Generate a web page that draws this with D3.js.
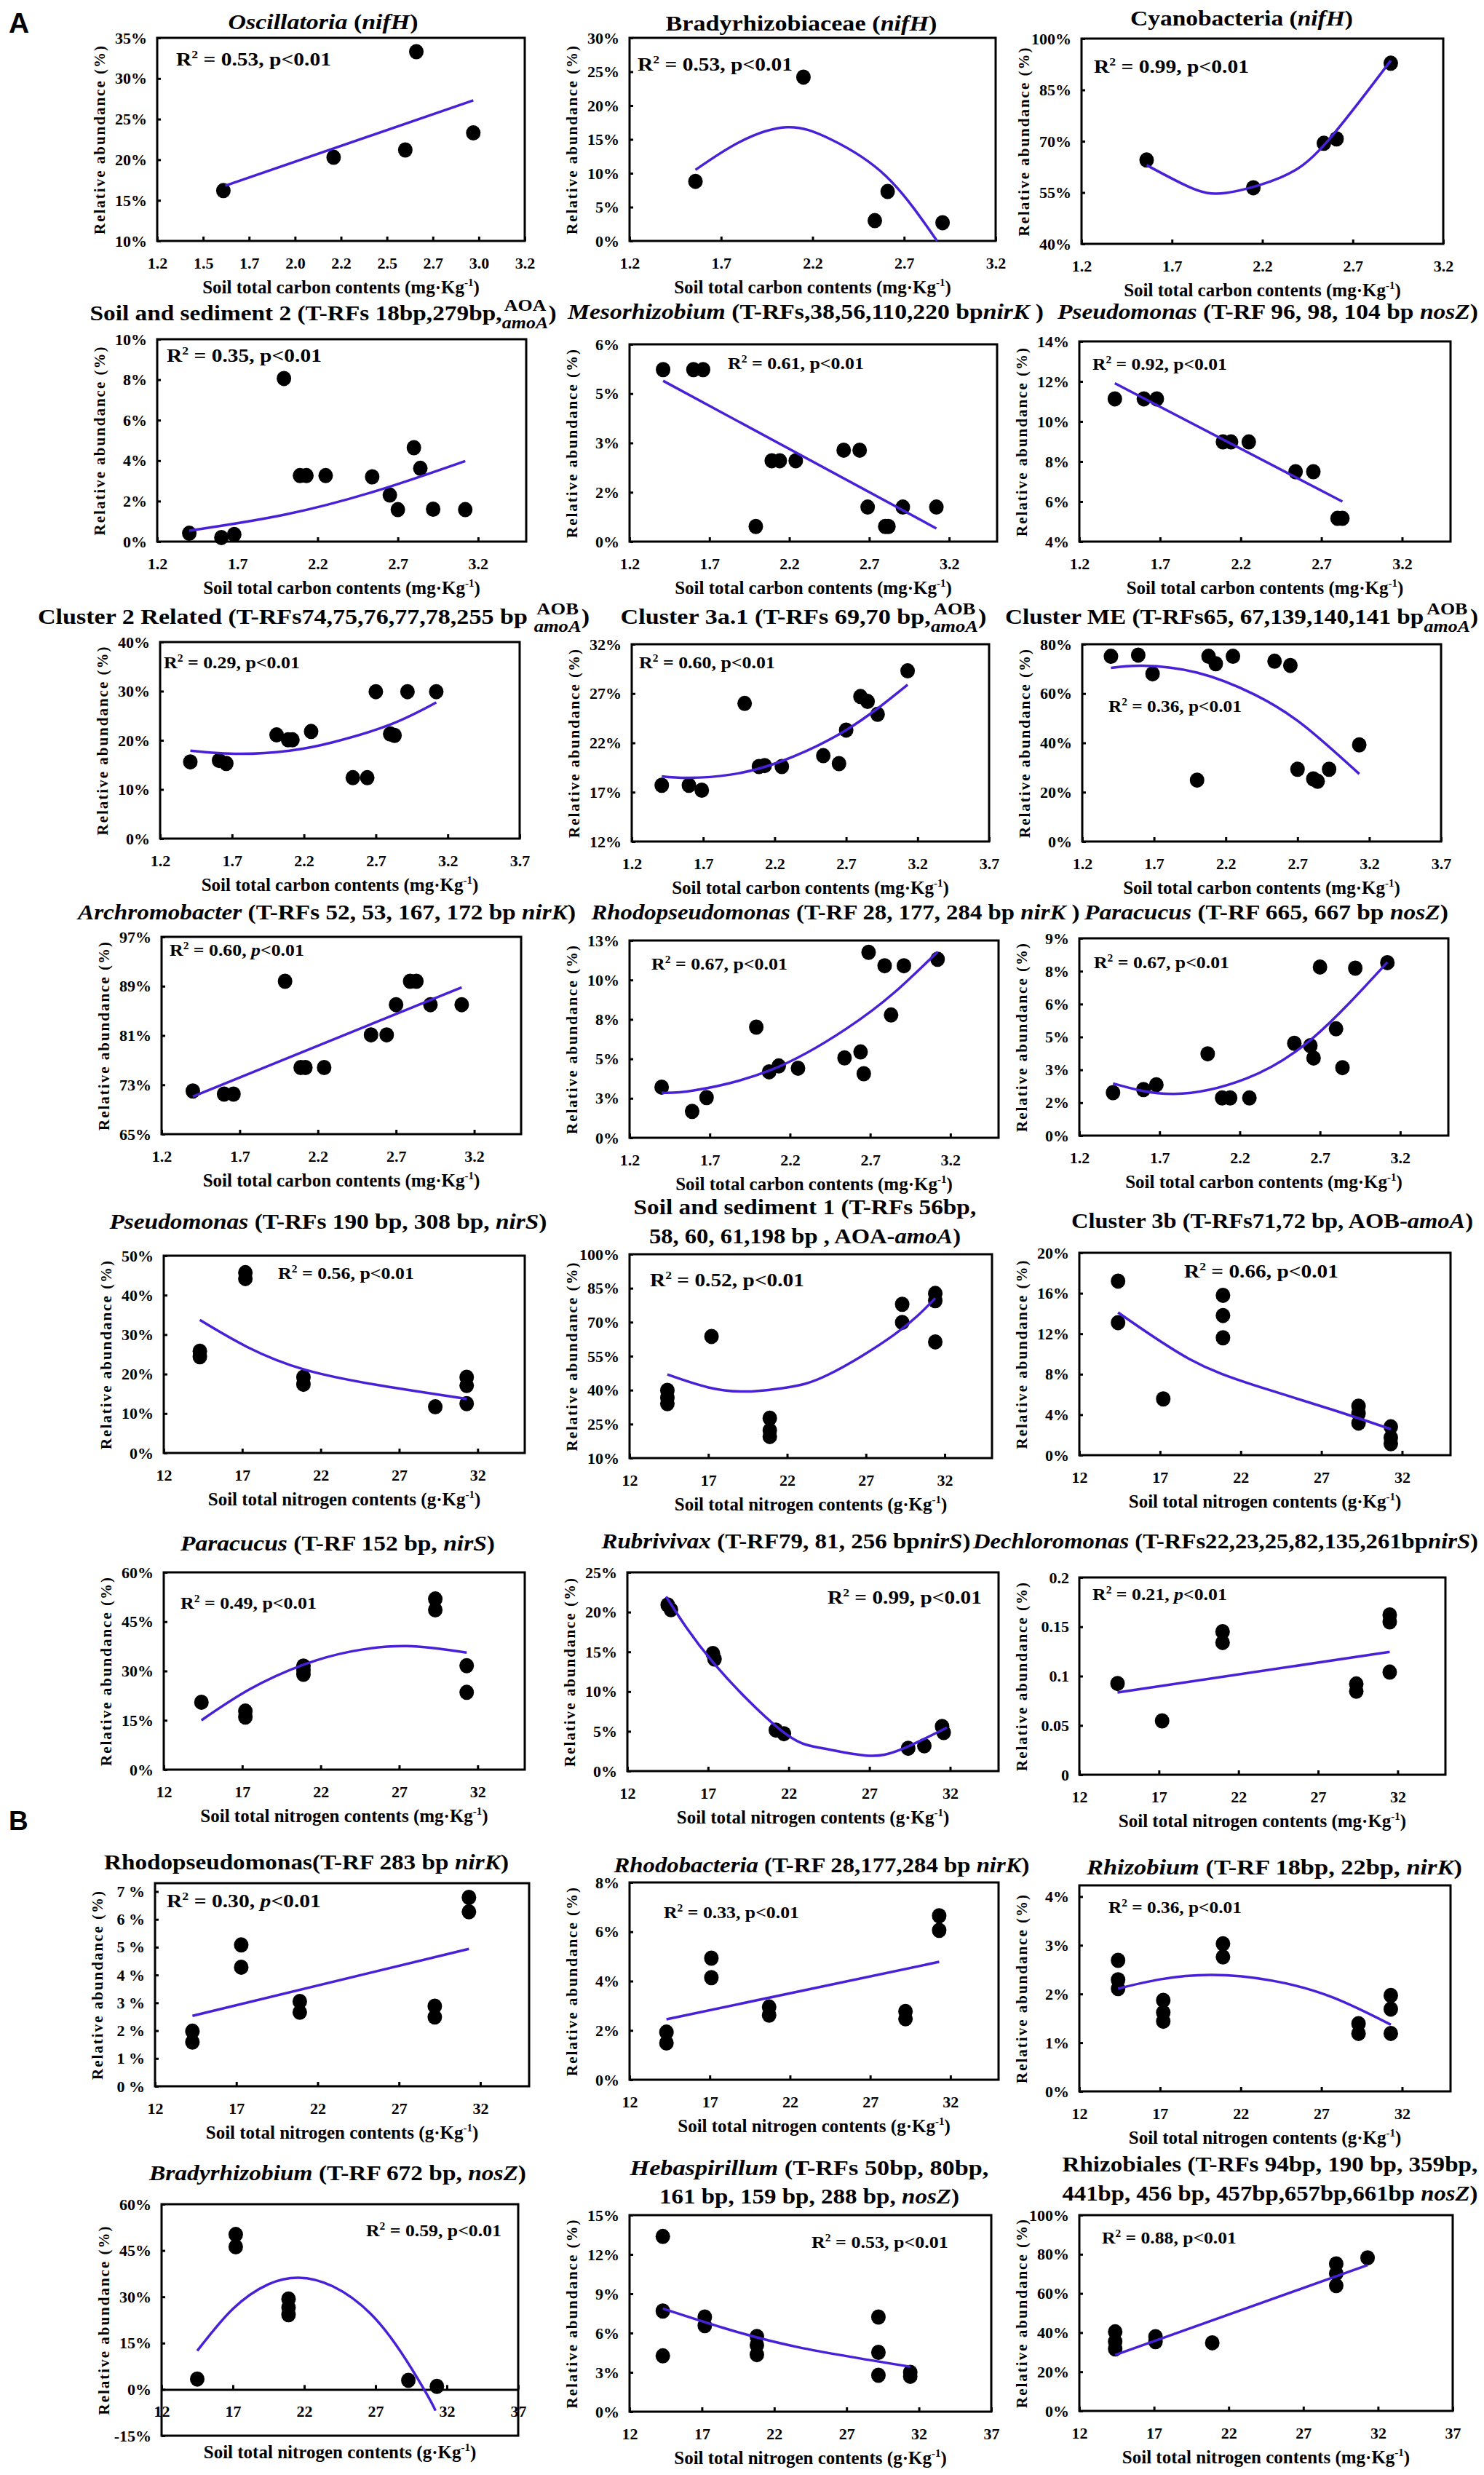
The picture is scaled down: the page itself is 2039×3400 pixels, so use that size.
<!DOCTYPE html>
<html>
<head>
<meta charset="utf-8">
<script src="https://cdn.jsdelivr.net/npm/d3@7"></script>
<style>
  body { margin: 0; background: #fff; }
  svg { display: block; font-family: "Liberation Serif", "Times New Roman", serif; font-weight: bold; }
</style>
</head>
<body>
<svg id="fig" width="2039" height="3400"></svg>
<script>
// ─── Data ───────────────────────────────────────────────────────────────
const titles = [
  "*Oscillatoria* (*nifH*)",
  "Bradyrhizobiaceae (*nifH*)",
  "Cyanobacteria (*nifH*)",
  "Soil and sediment 2 (T-RFs 18bp,279bp,{AOA|amoA})",
  "*Mesorhizobium* (T-RFs,38,56,110,220 bp*nirK* )",
  "*Pseudomonas* (T-RF 96, 98, 104 bp *nosZ*)",
  "Cluster 2 Related (T-RFs74,75,76,77,78,255 bp {AOB|amoA})",
  "Cluster 3a.1 (T-RFs 69,70 bp,{AOB|amoA})",
  "Cluster ME (T-RFs65, 67,139,140,141 bp{AOB|amoA})",
  "*Archromobacter* (T-RFs 52, 53, 167, 172 bp *nirK*)",
  "*Rhodopseudomonas* (T-RF 28, 177, 284 bp *nirK* )",
  "*Paracucus* (T-RF 665, 667 bp *nosZ*)",
  "*Pseudomonas* (T-RFs 190 bp, 308 bp, *nirS*)",
  "Soil and sediment 1 (T-RFs 56bp,\n58, 60, 61,198 bp , AOA-*amoA*)",
  "Cluster 3b (T-RFs71,72 bp, AOB-*amoA*)",
  "*Paracucus* (T-RF 152 bp, *nirS*)",
  "*Rubrivivax* (T-RF79, 81, 256 bp*nirS*)",
  "*Dechloromonas* (T-RFs22,23,25,82,135,261bp*nirS*)",
  "Rhodopseudomonas(T-RF 283 bp *nirK*)",
  "*Rhodobacteria* (T-RF 28,177,284 bp *nirK*)",
  "*Rhizobium* (T-RF 18bp, 22bp, *nirK*)",
  "*Bradyrhizobium* (T-RF 672 bp, *nosZ*)",
  "*Hebaspirillum* (T-RFs 50bp, 80bp,\n161 bp, 159 bp, 288 bp, *nosZ*)",
  "Rhizobiales (T-RFs 94bp, 190 bp, 359bp,\n441bp, 456 bp, 457bp,657bp,661bp *nosZ*)"
];

const r2Values = ["0.53","0.53","0.99","0.35","0.61","0.92","0.29","0.60","0.36","0.60","0.67","0.67",
                  "0.56","0.52","0.66","0.49","0.99","0.21","0.30","0.33","0.36","0.59","0.53","0.88"];

const xVariable = ["carbon","carbon","carbon","carbon","carbon","carbon","carbon","carbon","carbon","carbon","carbon","carbon",
                   "nitrogen","nitrogen","nitrogen","nitrogen","nitrogen","nitrogen","nitrogen","nitrogen","nitrogen","nitrogen","nitrogen","nitrogen"];
const xUnit = ["mg","mg","mg","mg","mg","mg","mg","mg","mg","mg","mg","mg",
               "g","g","g","mg","g","mg","g","g","g","g","g","mg"];

const xDomains = [
  [1.2,3.2],[1.2,3.2],[1.2,3.2],
  [1.2,3.5],[1.2,3.5],[1.2,3.5],
  [1.2,3.7],[1.2,3.7],[1.2,3.7],
  [1.2,3.5],[1.2,3.5],[1.2,3.5],
  [12,35],[12,35],[12,35],
  [12,35],[12,35],[12,35],
  [12,35],[12,35],[12,35],
  [12,37],[12,37],[12,37]
];

const carbonTicksFine = [1.2,1.45,1.7,1.95,2.2,2.45,2.7,2.95,3.2];
const carbonLabelsFine = ["1.2","1.5","1.7","2.0","2.2","2.5","2.7","3.0","3.2"];
const carbonTicks = [1.2,1.7,2.2,2.7,3.2];
const carbonLabels = ["1.2","1.7","2.2","2.7","3.2"];
const carbonTicksWide = [1.2,1.7,2.2,2.7,3.2,3.7];
const carbonLabelsWide = ["1.2","1.7","2.2","2.7","3.2","3.7"];
const nitroTicks = [12,17,22,27,32];
const nitroLabels = ["12","17","22","27","32"];
const nitroTicksWide = [12,17,22,27,32,37];
const nitroLabelsWide = ["12","17","22","27","32","37"];

const xTickValues = [carbonTicksFine, carbonTicks, carbonTicks, carbonTicks, carbonTicks, carbonTicks,
  carbonTicksWide, carbonTicksWide, carbonTicksWide, carbonTicks, carbonTicks, carbonTicks,
  nitroTicks, nitroTicks, nitroTicks, nitroTicks, nitroTicks, nitroTicks, nitroTicks, nitroTicks, nitroTicks,
  nitroTicksWide, nitroTicksWide, nitroTicksWide];
const xTickLabels = [carbonLabelsFine, carbonLabels, carbonLabels, carbonLabels, carbonLabels, carbonLabels,
  carbonLabelsWide, carbonLabelsWide, carbonLabelsWide, carbonLabels, carbonLabels, carbonLabels,
  nitroLabels, nitroLabels, nitroLabels, nitroLabels, nitroLabels, nitroLabels, nitroLabels, nitroLabels, nitroLabels,
  nitroLabelsWide, nitroLabelsWide, nitroLabelsWide];

const yDomains = [[10,35],[0,30],[40,100],[0,10],[0,6],[4,14],[0,40],[12,32],[0,80],[65,97],[0,12.5],[0,9],
                  [0,50],[10,100],[0,20],[0,60],[0,25],[0,0.2],[0,7.3],[0,8],[0,4.23],[-15,60],[0,15],[0,100]];

const yTickValues = [
  [10,15,20,25,30,35], [0,5,10,15,20,25,30], [40,55,70,85,100],
  [0,2,4,6,8,10], [0,1.5,3,4.5,6], [4,6,8,10,12,14],
  [0,10,20,30,40], [12,17,22,27,32], [0,20,40,60,80],
  [65,73,81,89,97], [0,2.5,5,7.5,10,12.5], [0,1.5,3,4.5,6,7.5,9],
  [0,10,20,30,40,50], [10,25,40,55,70,85,100], [0,4,8,12,16,20],
  [0,15,30,45,60], [0,5,10,15,20,25], [0,0.05,0.1,0.15,0.2],
  [0,1,2,3,4,5,6,7], [0,2,4,6,8], [0,1,2,3,4],
  [-15,0,15,30,45,60], [0,3,6,9,12,15], [0,20,40,60,80,100]
];
const yTickLabels = [
  ["10%","15%","20%","25%","30%","35%"], ["0%","5%","10%","15%","20%","25%","30%"], ["40%","55%","70%","85%","100%"],
  ["0%","2%","4%","6%","8%","10%"], ["0%","2%","3%","5%","6%"], ["4%","6%","8%","10%","12%","14%"],
  ["0%","10%","20%","30%","40%"], ["12%","17%","22%","27%","32%"], ["0%","20%","40%","60%","80%"],
  ["65%","73%","81%","89%","97%"], ["0%","3%","5%","8%","10%","13%"], ["0%","2%","3%","5%","6%","8%","9%"],
  ["0%","10%","20%","30%","40%","50%"], ["10%","25%","40%","55%","70%","85%","100%"], ["0%","4%","8%","12%","16%","20%"],
  ["0%","15%","30%","45%","60%"], ["0%","5%","10%","15%","20%","25%"], ["0","0.05","0.1","0.15","0.2"],
  ["0 %","1 %","2 %","3 %","4 %","5 %","6 %","7 %"], ["0%","2%","4%","6%","8%"], ["0%","1%","2%","3%","4%"],
  ["-15%","0%","15%","30%","45%","60%"], ["0%","3%","6%","9%","12%","15%"], ["0%","20%","40%","60%","80%","100%"]
];

const pointX = [
  [1.56,2.16,2.55,2.61,2.92],
  [1.56,2.15,2.54,2.61,2.91],
  [1.56,2.15,2.54,2.61,2.91],
  [1.40,1.60,1.68,1.99,2.09,2.13,2.25,2.54,2.65,2.70,2.80,2.84,2.92,3.12],
  [1.41,1.60,1.66,1.99,2.09,2.14,2.24,2.54,2.64,2.69,2.80,2.82,2.91,3.12],
  [1.42,1.60,1.68,2.09,2.14,2.25,2.54,2.65,2.80,2.83],
  [1.41,1.61,1.66,2.01,2.09,2.12,2.25,2.54,2.64,2.70,2.80,2.83,2.92,3.12],
  [1.41,1.60,1.69,1.99,2.09,2.13,2.25,2.54,2.65,2.70,2.80,2.85,2.92,3.13],
  [1.40,1.59,1.69,2.00,2.08,2.13,2.25,2.54,2.65,2.70,2.81,2.84,2.92,3.13],
  [1.40,1.60,1.66,1.99,2.09,2.12,2.24,2.54,2.64,2.70,2.79,2.83,2.92,3.12],
  [1.40,1.59,1.68,1.99,2.07,2.13,2.25,2.54,2.64,2.66,2.69,2.79,2.83,2.91,3.12],
  [1.41,1.60,1.68,2.00,2.09,2.14,2.26,2.54,2.64,2.66,2.70,2.80,2.84,2.92,3.12],
  [14.3,14.3,17.2,17.2,20.9,20.9,29.3,31.3,31.3,31.3],
  [14.4,14.4,14.4,17.2,20.9,20.9,20.9,29.3,29.3,31.4,31.4,31.4],
  [14.4,14.4,17.2,20.9,20.9,20.9,29.3,29.3,29.3,31.3,31.3,31.3],
  [14.4,17.2,17.2,20.9,20.9,20.9,29.3,29.3,31.3,31.3],
  [14.5,14.7,17.3,17.4,21.2,21.7,29.4,30.4,31.5,31.6],
  [14.4,17.2,21.0,21.0,29.4,29.4,31.5,31.5,31.5],
  [14.3,14.3,17.3,17.3,20.9,20.9,29.2,29.2,31.3,31.3],
  [14.3,14.3,17.1,17.1,20.7,20.7,29.2,29.2,31.3,31.3],
  [14.4,14.4,14.4,17.2,17.2,17.2,20.9,20.9,29.3,29.3,31.3,31.3,31.3],
  [14.5,17.2,17.2,20.9,20.9,20.9,29.3,31.3],
  [14.3,14.3,14.3,17.2,17.2,20.8,20.8,20.8,29.2,29.2,29.2,31.4,31.4],
  [14.4,14.4,14.4,17.1,17.1,20.9,29.2,29.2,29.2,31.3]
];
const pointY = [
  [16.2,20.3,21.2,33.3,23.3],
  [8.8,24.2,3.0,7.3,2.7],
  [64.5,56.4,69.4,70.7,92.8],
  [0.41,0.2,0.35,8.06,3.26,3.26,3.26,3.2,2.3,1.58,4.64,3.62,1.6,1.58],
  [5.23,5.23,5.23,0.46,2.46,2.46,2.46,2.78,2.78,1.05,0.46,0.46,1.05,1.05],
  [11.13,11.13,11.13,8.98,8.98,8.98,7.49,7.49,5.16,5.16],
  [15.6,15.9,15.3,21.1,20.1,20.1,21.8,12.4,12.4,29.9,21.3,21.0,29.9,29.9],
  [17.7,17.7,17.2,26.0,19.6,19.7,19.6,20.7,19.9,23.3,26.7,26.2,24.9,29.3],
  [75.1,75.6,68.0,24.9,75.1,72.1,75.1,73.1,71.4,29.3,25.4,24.4,29.3,39.2],
  [72.0,71.5,71.5,89.8,75.8,75.8,75.8,81.1,81.1,86.0,89.8,89.8,86.0,86.0],
  [3.21,1.67,2.55,7.01,4.18,4.55,4.41,5.06,5.44,4.06,11.75,10.9,7.78,10.9,11.31],
  [1.96,2.10,2.32,3.73,1.72,1.72,1.72,4.21,4.1,3.54,7.69,4.87,3.10,7.64,7.89],
  [25.8,24.4,45.7,44.2,19.2,17.4,11.7,19.2,17.1,12.5],
  [39.9,36.7,34.0,63.7,27.6,22.2,19.5,77.9,69.9,82.7,79.5,61.3],
  [17.2,13.1,5.56,15.8,13.8,11.6,4.84,4.12,3.17,2.8,1.73,1.13],
  [20.5,17.8,16.0,31.5,30.3,29.0,51.9,48.6,31.6,23.5],
  [20.9,20.3,14.8,14.1,5.16,4.7,2.87,3.18,5.62,4.85],
  [0.0925,0.0546,0.145,0.134,0.092,0.0846,0.162,0.155,0.104],
  [1.98,1.59,5.08,4.28,3.05,2.66,2.88,2.49,6.79,6.27],
  [1.93,1.49,4.93,4.14,2.95,2.62,2.77,2.47,6.65,6.06],
  [2.69,2.29,2.11,1.87,1.62,1.44,3.03,2.76,1.39,1.19,1.97,1.69,1.19],
  [3.35,50.2,46.2,29.3,26.5,24.2,2.94,0.98],
  [13.37,7.68,4.26,7.22,6.57,5.74,5.09,4.35,7.22,4.53,2.78,3.0,2.7],
  [40.4,35.4,31.7,37.9,35.4,34.8,75.1,70.2,64.0,78.2]
];

// trend lines
const fitX = [
  [1.57,2.92], [1.56,1.8,2.06,2.3,2.6,2.88], [1.56,1.8,2.0,2.3,2.55,2.91],
  [1.40,2.0,2.58,3.12], [1.41,3.12], [1.42,2.83],
  [1.41,1.75,2.1,2.4,2.8,3.12], [1.41,1.6,1.9,2.24,2.7,3.13], [1.40,1.62,2.0,2.4,2.74,3.13],
  [1.40,3.12], [1.40,1.6,2.08,2.55,2.85,3.12], [1.41,1.79,2.24,2.66,3.12],
  [14.3,17.3,21.0,25.8,31.3], [14.4,17,19.5,22,24.6,28.8,31.4], [14.4,18.8,22.9,27.7,31.3],
  [14.4,17.5,20.9,24,27.5,31.3], [14.4,17.3,21.5,24,26.8,29,31.8], [14.4,31.5],
  [14.3,31.3], [14.3,31.3], [14.4,17,20.2,24,27.7,31.3],
  [14.5,17,19.5,21.6,24,27.35,30.4,31.2], [14.3,18.5,23.7,31.4], [14.4,31.3]
];
const fitY = [
  [16.8,27.3], [10.5,14.6,16.8,15.0,9.6,0], [63.0,56.5,54.9,59.4,69.4,93.6],
  [0.54,1.34,2.54,3.98], [4.89,0.40], [11.91,6.0],
  [17.9,17.25,17.9,19.6,23.2,27.7], [18.6,18.45,18.8,20.1,23.3,27.9], [70.4,71.3,68.5,59.6,47.2,27.4],
  [71.1,88.8], [2.86,3.0,4.29,6.9,9.2,11.78], [2.38,1.90,2.6,4.48,7.91],
  [33.7,26.9,21.1,17.1,13.7], [46.9,41.2,39.4,41.2,46.8,64.5,80.6], [14.1,9.52,6.88,4.48,2.57],
  [15.0,24.5,31.9,36.0,37.6,35.6], [21.95,13.7,5.16,2.9,1.95,2.75,5.47], [0.0834,0.1245],
  [2.53,4.94], [2.45,4.78], [2.11,2.30,2.39,2.27,1.93,1.37],
  [12.5,26.1,34.1,36.2,33.4,21.0,0,-6.9], [7.87,6.39,4.91,3.43], [28.6,74.5]
];

// ─── Layout (pixel placement only) ──────────────────────────────────────
const layout = [
  {box:[216,52,721,331],    tx:444,  ty:[40],        tw:[261],     r2:[242,90,213]},
  {box:[865,52,1368,331],   tx:1101, ty:[42],        tw:[373],     r2:[876,97,213]},
  {box:[1486,53,1983,335],  tx:1706, ty:[35],        tw:[306],     r2:[1503,100,213]},
  {box:[216,466,723,744],   tx:444,  ty:[440],       tw:[641],     r2:[229,497,213]},
  {box:[865,473,1370,744],  tx:1107, ty:[438],       tw:[654],     r2:[1000,507,187]},
  {box:[1483,469,1993,744], tx:1742, ty:[438],       tw:[578],     r2:[1501,508,185]},
  {box:[220,882,714,1152],  tx:431,  ty:[857],       tw:[758],     r2:[225,918,187]},
  {box:[868,885,1359,1156], tx:1104, ty:[857],       tw:[503],     r2:[878,918,187]},
  {box:[1487,885,1980,1156],tx:1706, ty:[857],       tw:[650],     r2:[1523,978,183]},
  {box:[222,1287,716,1558], tx:449,  ty:[1263],      tw:[684],     r2:[233,1313,185], ip:true},
  {box:[865,1292,1372,1563],tx:1148, ty:[1263],      tw:[671],     r2:[895,1332,187]},
  {box:[1483,1289,1990,1560],tx:1740,ty:[1263],      tw:[500],     r2:[1503,1330,186]},
  {box:[225,1725,721,1996], tx:451,  ty:[1688],      tw:[601],     r2:[382,1757,187]},
  {box:[865,1723,1363,2003],tx:1106, ty:[1668,1708], tw:[471,428], r2:[893,1767,212]},
  {box:[1483,1721,1993,1999],tx:1748,ty:[1687],      tw:[552],     r2:[1627,1755,212]},
  {box:[225,2160,721,2431], tx:464,  ty:[2130],      tw:[432],     r2:[248,2210,187]},
  {box:[862,2160,1372,2433],tx:1080, ty:[2127],      tw:[507],     r2:[1137,2203,212]},
  {box:[1483,2167,1986,2438],tx:1684,ty:[2127],      tw:[694],     r2:[1501,2198,185], ip:true},
  {box:[213,2587,727,2866], tx:421,  ty:[2568],      tw:[556],     r2:[229,2620,212], ip:true},
  {box:[865,2586,1372,2857],tx:1129, ty:[2572],      tw:[571],     r2:[912,2635,186]},
  {box:[1483,2590,1993,2873],tx:1751,ty:[2575],      tw:[516],     r2:[1523,2628,183]},
  {box:[222,3028,712,3346], tx:464,  ty:[2995],      tw:[518],     r2:[503,3072,186]},
  {box:[865,3043,1362,3313],tx:1112, ty:[2988,3027], tw:[493,412], r2:[1115,3088,188]},
  {box:[1483,3043,1996,3312],tx:1745,ty:[2983,3023], tw:[571,571], r2:[1514,3082,185]}
];

const BLUE = "#4820d8";
const svg = d3.select("#fig");

// "*x*" = italic run, "{a|b}" = stacked pair (upper / italic lower)
function parseSegs(str) {
  return str.split(/(\*[^*]+\*|\{[^}]+\})/).filter(s => s.length).map(s => {
    if (s[0] === "*") return { t: s.slice(1, -1), it: true };
    if (s[0] === "{") return { stack: s.slice(1, -1).split("|") };
    return { t: s, it: false };
  });
}

function richLine(segs, cx, base, size, target) {
  const g = svg.append("g");
  const inner = g.append("g");
  let cur = 0;
  segs.forEach(s => {
    if (s.stack) {
      // one text element, two lines, so the pair reads as a single label
      const st = inner.append("text").attr("font-size", size * 0.78);
      const a = st.append("tspan").attr("x", cur).attr("y", -size * 0.42).text(s.stack[0]);
      const b = st.append("tspan").attr("x", cur).attr("y", size * 0.36).attr("font-style", "italic").text(s.stack[1]);
      const wa = a.node().getComputedTextLength(), wb = b.node().getComputedTextLength();
      const w = Math.max(wa, wb);
      a.attr("x", cur + (w - wa) / 2);
      b.attr("x", cur + (w - wb) / 2);
      cur += w;
    } else {
      const t = inner.append("text").attr("x", cur).attr("y", 0).attr("font-size", size)
        .attr("font-style", s.it ? "italic" : null).style("white-space", "pre").text(s.t);
      cur += t.node().getComputedTextLength();
    }
  });
  const sx = target ? Math.max(0.6, Math.min(1.3, target / cur)) : 1;
  inner.attr("transform", `scale(${sx},1)`);
  g.attr("transform", `translate(${cx - cur * sx / 2},${base})`);
}

function drawR2(i) {
  const [rx, ry, rw] = layout[i].r2;
  const size = rw > 200 ? 26 : 23;
  const g = svg.append("g");
  const t = g.append("text").attr("font-size", size).style("white-space", "pre");
  t.append("tspan").text("R");
  t.append("tspan").attr("font-size", size * 0.6).attr("dy", -size * 0.4).text("2");
  t.append("tspan").attr("dy", size * 0.4).text(` = ${r2Values[i]}, `);
  t.append("tspan").attr("font-style", layout[i].ip ? "italic" : null).text("p");
  t.append("tspan").text("<0.01");
  const w = t.node().getComputedTextLength();
  const sx = Math.max(0.8, Math.min(1.25, rw / w));
  g.attr("transform", `translate(${rx},${ry}) scale(${sx},1)`);
}

function drawPanel(i) {
  const L = layout[i];
  const [x0, y0, x1, y1] = L.box;
  const x = d3.scaleLinear().domain(xDomains[i]).range([x0, x1]);
  const y = d3.scaleLinear().domain(yDomains[i]).range([y1, y0]);
  const g = svg.append("g").attr("class", "panel");
  const axisY = yDomains[i][0] < 0 ? y(0) : y1;

  // frame
  g.append("rect").attr("x", x0).attr("y", y0).attr("width", x1 - x0).attr("height", y1 - y0)
    .attr("fill", "none").attr("stroke", "#000").attr("stroke-width", 3);

  // x axis (ticks point up into the plot)
  const xa = g.append("g").attr("transform", `translate(0,${axisY})`)
    .call(d3.axisBottom(x).tickValues(xTickValues[i]).tickFormat((d, k) => xTickLabels[i][k])
      .tickSizeInner(-6).tickSizeOuter(0).tickPadding(22));
  xa.attr("font-family", null).attr("font-size", 22);
  if (axisY === y1) xa.select(".domain").remove();
  else xa.select(".domain").attr("stroke", "#000").attr("stroke-width", 3);
  xa.selectAll(".tick line").attr("stroke", "#000").attr("stroke-width", 3);
  xa.selectAll(".tick text").attr("fill", "#000");

  // y axis
  const ya = g.append("g").attr("transform", `translate(${x0},0)`)
    .call(d3.axisLeft(y).tickValues(yTickValues[i]).tickFormat((d, k) => yTickLabels[i][k])
      .tickSizeInner(-5).tickSizeOuter(0).tickPadding(14));
  ya.attr("font-family", null).attr("font-size", 22);
  ya.select(".domain").remove();
  ya.selectAll(".tick line").attr("stroke", "#000").attr("stroke-width", 3);
  ya.selectAll(".tick text").attr("fill", "#000");

  // y axis title
  g.append("text")
    .attr("transform", `translate(${x0 - 72},${(y0 + y1) / 2}) rotate(-90)`)
    .attr("text-anchor", "middle").attr("font-size", 21).attr("letter-spacing", 2)
    .text("Relative abundance (%)");

  // x axis title
  const tb = Math.max(axisY + 72, y1 + 31);
  const xt = g.append("text").attr("x", (x0 + x1) / 2).attr("y", tb)
    .attr("text-anchor", "middle").attr("font-size", 25);
  xt.append("tspan").text(`Soil total ${xVariable[i]} contents (${xUnit[i]}\u00b7Kg`);
  xt.append("tspan").attr("font-size", 15).attr("dy", -10).text("-1");
  xt.append("tspan").attr("dy", 10).text(")");

  // points
  const pts = pointX[i].map((v, k) => [v, pointY[i][k]]);
  g.append("g").selectAll("ellipse").data(pts).join("ellipse")
    .attr("cx", d => x(d[0])).attr("cy", d => y(d[1]))
    .attr("rx", 10).attr("ry", 10.5).attr("fill", "#000");

  // fit
  const fit = fitX[i].map((v, k) => [v, fitY[i][k]]);
  g.append("path").datum(fit)
    .attr("d", d3.line().x(d => x(d[0])).y(d => y(d[1])).curve(d3.curveNatural))
    .attr("fill", "none").attr("stroke", BLUE).attr("stroke-width", 3.5);

  // title
  titles[i].split("\n").forEach((ln, k) => richLine(parseSegs(ln), L.tx, L.ty[k], 30, L.tw[k]));
  drawR2(i);
}

titles.forEach((t, i) => drawPanel(i));

// panel letters
svg.append("text").attr("x", 12).attr("y", 45).attr("font-family", "Liberation Sans, Arial, sans-serif")
  .attr("font-size", 39).text("A");
svg.append("text").attr("x", 12).attr("y", 2514).attr("font-family", "Liberation Sans, Arial, sans-serif")
  .attr("font-size", 37).text("B");
</script>
</body>
</html>
